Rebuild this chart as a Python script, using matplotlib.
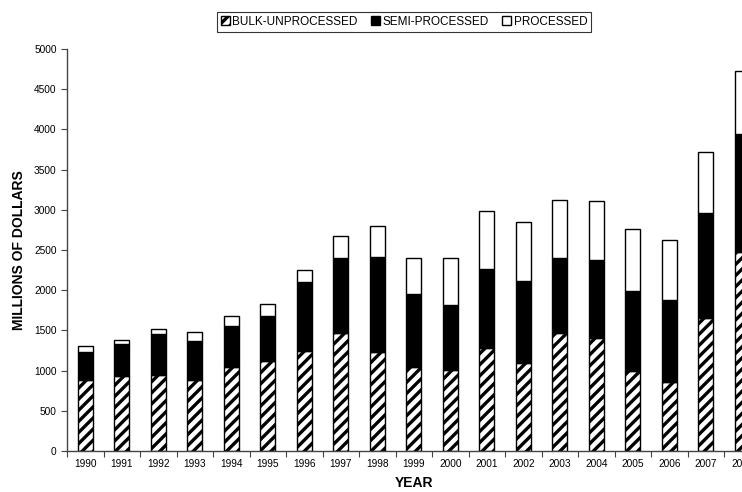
import matplotlib
matplotlib.use("Agg")
import matplotlib.pyplot as plt
import numpy as np

years = [str(y) for y in range(1990, 2009)]
bulk = [880, 935, 950, 880, 1040, 1120, 1245, 1470, 1230, 1050, 1010, 1285, 1095, 1470, 1410, 995, 860, 1655, 2470]
semi_top = [1235, 1330, 1455, 1370, 1560, 1685, 2100, 2395, 2410, 1950, 1815, 2265, 2115, 2400, 2375, 1990, 1880, 2960, 3940]
total = [1300, 1385, 1515, 1475, 1680, 1825, 2255, 2675, 2800, 2395, 2400, 2990, 2850, 3120, 3115, 2765, 2620, 3720, 4730]

semi = [s - b for s, b in zip(semi_top, bulk)]
proc = [t - s for t, s in zip(total, semi_top)]

plt.rcParams['font.family'] = ['Liberation Sans', 'DejaVu Sans']
plt.rcParams['hatch.linewidth'] = 2.4

fig = plt.figure(figsize=(7.42, 4.92), dpi=100)
ax = fig.add_axes([67/742, 41/492, 693.5/742, 402/492])

x = np.arange(len(years))
w = 0.41
b1 = ax.bar(x, bulk, w, color='white', edgecolor='black', hatch='///', linewidth=1.0, label='BULK-UNPROCESSED')
b2 = ax.bar(x, semi, w, bottom=bulk, color='black', edgecolor='black', linewidth=1.0, label='SEMI-PROCESSED')
b3 = ax.bar(x, proc, w, bottom=semi_top, color='white', edgecolor='black', linewidth=1.0, label='PROCESSED')

ax.set_xlim(-0.5, len(years) - 0.5)
ax.set_ylim(0, 5000)
ax.set_yticks(np.arange(0, 5001, 500))
ax.set_xticks(x)
ax.set_xticklabels(years)
ax.set_xticks(np.arange(-0.5, len(years), 1.0), minor=True)
ax.tick_params(axis='x', which='major', length=0, labelsize=7.3, pad=6)
ax.tick_params(axis='x', which='minor', length=4, width=0.8, direction='out', color='#444444')
ax.tick_params(axis='y', length=4, width=0.8, direction='out', labelsize=7.3, color='#444444')

for s in ['top', 'right']:
    ax.spines[s].set_visible(False)
for s in ['left', 'bottom']:
    ax.spines[s].set_color('#444444')
    ax.spines[s].set_linewidth(1.0)

ax.set_ylabel('MILLIONS OF DOLLARS', fontsize=10, fontweight='bold', labelpad=6)
ax.set_xlabel('YEAR', fontsize=10, fontweight='bold', labelpad=5)

leg = fig.legend(handles=[b1, b2, b3], loc='center', bbox_to_anchor=(404/742, 1 - 22/492),
                 ncol=3, fontsize=8.5, frameon=True, fancybox=False, edgecolor='black',
                 handlelength=0.8, handleheight=0.8, handletextpad=0.2, columnspacing=1.1,
                 borderpad=0.35)
leg.get_frame().set_linewidth(0.8)

fig.savefig('out.png', dpi=100)
